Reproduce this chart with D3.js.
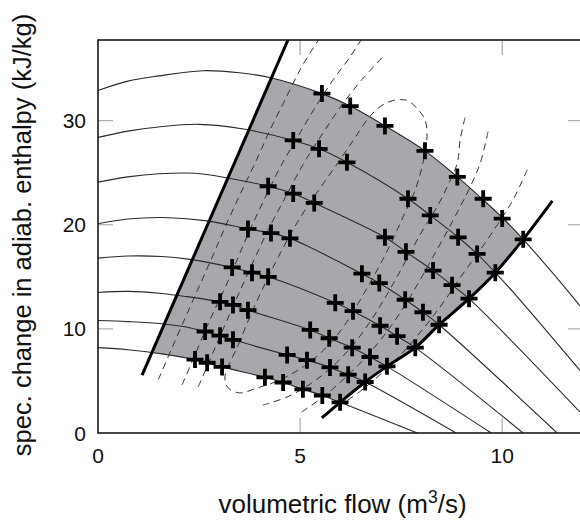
<!DOCTYPE html>
<html><head><meta charset="utf-8">
<script src="https://cdn.jsdelivr.net/npm/d3@7"></script>
<style>html,body{margin:0;padding:0;background:#fff;} svg{display:block;font-family:"Liberation Sans",Arial,Helvetica,sans-serif;}</style>
</head><body><svg id="c" width="580" height="521"></svg>
<script>
// ---------- data ----------
const xTicks = [0, 5, 10];
const yTicks = [0, 10, 20, 30];
const xDomain = [0, 12];
const yDomain = [0, 37.75];

// constant-speed characteristic lines (x = flow, y = enthalpy)
const speedLines = [
  [[0,32.9],[0.74,33.8],[1.5,34.3],[2.6,34.8],[3.5,34.6],[4.3,34.1],[5.54,32.6],[6.24,31.4],[7.1,29.5],[8.09,27.1],[8.89,24.6],[9.53,22.4],[10.0,20.7],[10.52,18.6],[11.76,13.0],[12.1,11.3]],
  [[0,28.4],[0.74,29.0],[1.5,29.4],[2.5,29.65],[3.6,29.2],[4.83,28.1],[5.47,27.3],[6.16,26.0],[7.67,22.5],[8.22,20.9],[8.91,18.8],[9.38,17.2],[9.83,15.4],[10.45,12.75],[12.1,5.2]],
  [[0,24.1],[0.74,24.6],[1.5,24.9],[2.4,24.95],[3.2,24.5],[4.21,23.7],[4.83,23.0],[5.35,22.1],[7.1,18.8],[7.62,17.4],[8.29,15.6],[8.76,14.2],[9.18,12.9],[12.1,1.3]],
  [[0,20.1],[0.74,20.55],[1.6,20.7],[2.65,20.4],[3.71,19.6],[4.28,19.2],[4.75,18.7],[6.53,15.3],[6.96,14.4],[7.6,12.8],[8.04,11.6],[8.44,10.4],[11.36,0]],
  [[0,16.8],[0.74,17.0],[1.58,16.95],[2.23,16.7],[3.32,15.9],[3.81,15.4],[4.21,15.0],[5.87,12.5],[6.31,11.7],[6.98,10.3],[7.40,9.3],[7.85,8.2],[10.52,0]],
  [[0,13.5],[0.74,13.6],[1.58,13.4],[2.2,13.1],[3.02,12.6],[3.34,12.3],[3.71,11.8],[5.25,9.9],[5.72,9.1],[6.29,8.2],[6.73,7.3],[7.15,6.4],[9.73,0]],
  [[0,10.8],[0.74,10.7],[1.58,10.5],[2.15,10.2],[2.65,9.75],[3.02,9.35],[3.34,8.95],[4.68,7.5],[5.17,7.0],[5.74,6.3],[6.19,5.6],[6.61,4.9],[8.86,0]],
  [[0,8.2],[0.74,8.0],[1.58,7.6],[2.40,7.05],[2.70,6.75],[3.07,6.35],[4.13,5.35],[4.58,4.85],[5.07,4.2],[5.55,3.6],[5.99,2.95],[7.9,0]]
];

// measured operating points (crosses)
const measuredPoints = [
  [5.54,32.6],[6.24,31.4],[7.1,29.5],[8.09,27.1],[8.89,24.6],[9.53,22.5],[10.0,20.6],[10.52,18.6],
  [4.83,28.1],[5.47,27.3],[6.16,26.0],[7.67,22.5],[8.22,20.9],[8.91,18.8],[9.38,17.2],[9.83,15.4],
  [4.21,23.7],[4.83,23.0],[5.35,22.1],[7.1,18.8],[7.62,17.4],[8.29,15.6],[8.76,14.2],[9.18,12.9],
  [3.71,19.6],[4.28,19.2],[4.75,18.7],[6.53,15.3],[6.96,14.4],[7.6,12.8],[8.04,11.6],[8.44,10.4],
  [3.32,15.9],[3.81,15.4],[4.21,15.0],[5.87,12.5],[6.31,11.7],[6.98,10.3],[7.40,9.3],[7.85,8.2],
  [3.02,12.6],[3.34,12.3],[3.71,11.8],[5.25,9.9],[5.72,9.1],[6.29,8.2],[6.73,7.3],[7.15,6.4],
  [2.65,9.75],[3.02,9.35],[3.34,8.95],[4.68,7.5],[5.17,7.0],[5.74,6.3],[6.19,5.6],[6.61,4.9],
  [2.40,7.05],[2.70,6.75],[3.07,6.35],[4.13,5.35],[4.58,4.85],[5.07,4.2],[5.55,3.6],[5.99,2.95]
];

// surge limit (left thick line) and choke limit (right thick line)
const surgeLine = [[1.09,5.55],[4.75,38.2]];
const chokeLine = [[5.54,1.45],[5.99,2.95],[6.61,4.9],[7.15,6.4],[7.85,8.2],[8.44,10.4],[9.18,12.9],[9.83,15.4],[10.52,18.6],[11.24,22.3]];

// efficiency contours (dashed)
const effOuterLeft = [[1.49,5.10],[1.83,8.17],[2.18,11.25],[2.52,14.23],[2.85,17.12],[3.17,20.0],[3.51,22.88],[3.89,25.96],[4.26,29.13],[4.63,32.02],[5.00,34.90],[5.30,36.83],[5.55,38.3]];
const effOuterRight = [[10.62,25.29],[10.27,22.40],[9.88,20.0],[9.46,17.60],[9.01,15.19],[8.59,12.79],[8.12,10.38],[7.60,7.98],[7.05,5.87],[6.53,4.13],[6.11,2.98]];
const eff2Left = [[2.08,4.62],[2.43,7.79],[2.77,10.87],[3.12,13.75],[3.44,16.63],[3.76,19.52],[4.11,22.40],[4.50,25.48],[4.93,28.37],[5.37,31.25],[5.82,33.94],[6.24,36.15],[6.6,38.3]];
const eff2Right = [[9.65,28.94],[9.46,25.96],[9.21,23.65],[8.96,21.73],[8.66,19.52],[8.29,16.92],[7.97,14.71],[7.60,12.31],[7.18,9.90],[6.68,7.50],[6.11,5.29],[5.54,3.37],[5.0,1.92]];
const eff3Left = [[2.48,4.42],[2.80,7.31],[3.12,10.19],[3.47,13.27],[3.84,16.44],[4.21,19.52],[4.63,22.60],[5.07,25.77],[5.54,28.65],[6.04,31.54],[6.53,33.94],[7.10,36.35]];
const eff3Right = [[9.08,30.29],[8.96,28.17],[8.89,25.96],[8.64,23.65],[8.39,21.73],[8.04,19.52],[7.72,17.31],[7.40,15.0],[7.10,12.98],[6.73,10.67],[6.29,8.37],[5.79,6.35],[5.25,4.71],[4.68,3.46],[4.08,2.69]];
const effInner = [[3.14,5.38],[3.47,8.46],[3.81,11.63],[4.18,14.71],[4.58,17.79],[5.00,20.67],[5.50,23.56],[5.99,26.25],[6.36,28.37],[6.66,30.10],[6.98,31.35],[7.28,31.92],[7.48,32.02],[7.67,31.92],[7.92,31.06],[8.09,30.10],[8.14,28.46],[8.04,25.96],[7.85,23.37],[7.55,20.77],[7.23,18.08],[6.91,15.67],[6.56,13.27],[6.19,10.87],[5.82,8.94],[5.37,7.21],[4.88,5.87],[4.38,4.90],[3.94,4.33],[3.51,3.85],[3.22,4.33]];

const xTitle = "volumetric flow (m";
const xTitleSup = "3";
const xTitleEnd = "/s)";
const yTitle = "spec. change in adiab. enthalpy (kJ/kg)";

// ---------- drawing ----------
const svg = d3.select("#c");
const M = {left: 98, top: 40, right: 583, bottom: 433};
const x = d3.scaleLinear().domain(xDomain).range([M.left, M.right]);
const y = d3.scaleLinear().domain(yDomain).range([M.bottom, M.top]);

const curve = d3.curveCatmullRom.alpha(0.5);
const line = d3.line().x(d => x(d[0])).y(d => y(d[1])).curve(curve);
const straight = d3.line().x(d => x(d[0])).y(d => y(d[1]));
const P = (a, b) => "L" + x(a) + "," + y(b);

const defs = svg.append("defs");
defs.append("clipPath").attr("id", "plot").append("rect")
  .attr("x", M.left).attr("y", M.top).attr("width", M.right - M.left).attr("height", M.bottom - M.top);

const topLine = speedLines[0], botLine = speedLines[speedLines.length - 1];
const xLo = xDomain[0] - 2, xHi = xDomain[1] + 2, yLo = yDomain[0] - 2, yHi = yDomain[1] + 2;
const tEnd = topLine[topLine.length - 1], bEnd = botLine[botLine.length - 1];
defs.append("clipPath").attr("id", "belowTop").append("path")
  .attr("d", line(topLine) + P(xHi, tEnd[1]) + P(xHi, yLo) + P(xLo, yLo) + P(xLo, topLine[0][1]) + "Z");
defs.append("clipPath").attr("id", "aboveBot").append("path")
  .attr("d", line(botLine) + P(xHi, bEnd[1]) + P(xHi, yHi) + P(xLo, yHi) + P(xLo, botLine[0][1]) + "Z");
const s0 = surgeLine[0], s1 = surgeLine[surgeLine.length - 1];
defs.append("clipPath").attr("id", "rightSurge").append("path")
  .attr("d", straight(surgeLine) + P(xHi, s1[1]) + P(xHi, yLo) + P(s0[0], yLo) + "Z");
const c0 = chokeLine[0], c1 = chokeLine[chokeLine.length - 1];
defs.append("clipPath").attr("id", "leftChoke").append("path")
  .attr("d", line(chokeLine) + P(c1[0], yHi) + P(xLo, yHi) + P(xLo, yLo) + P(c0[0], yLo) + "Z");

const plot = svg.append("g").attr("clip-path", "url(#plot)");

// shaded operating region
plot.append("g").attr("clip-path", "url(#belowTop)")
  .append("g").attr("clip-path", "url(#aboveBot)")
  .append("g").attr("clip-path", "url(#rightSurge)")
  .append("rect").attr("clip-path", "url(#leftChoke)")
  .attr("x", M.left).attr("y", M.top).attr("width", M.right - M.left).attr("height", M.bottom - M.top)
  .attr("fill", "#a7a8ac");

// speed lines
plot.selectAll("path.speed").data(speedLines).join("path").attr("class", "speed")
  .attr("d", line).attr("fill", "none").attr("stroke", "#2a2a2a").attr("stroke-width", 1.1);

// efficiency contours
const openContours = [effOuterLeft, effOuterRight, eff2Left, eff2Right, eff3Left, eff3Right];
plot.selectAll("path.eff").data(openContours).join("path").attr("class", "eff")
  .attr("d", line).attr("fill", "none").attr("stroke", "#333").attr("stroke-width", 1)
  .attr("stroke-dasharray", "7,5");
plot.append("path").attr("d", d3.line().x(d => x(d[0])).y(d => y(d[1])).curve(d3.curveCatmullRomClosed.alpha(0.5))(effInner))
  .attr("fill", "none").attr("stroke", "#333").attr("stroke-width", 1).attr("stroke-dasharray", "7,5");

// surge and choke limits
plot.append("path").attr("d", straight(surgeLine)).attr("fill", "none").attr("stroke", "#000").attr("stroke-width", 3);
plot.append("path").attr("d", line(chokeLine)).attr("fill", "none").attr("stroke", "#000").attr("stroke-width", 3);

// crosses
plot.selectAll("path.pt").data(measuredPoints).join("path").attr("class", "pt")
  .attr("transform", d => `translate(${x(d[0])},${y(d[1])})`)
  .attr("d", "M-8.5,0H8.5M0,-8.5V8.5").attr("stroke", "#000").attr("stroke-width", 3.8).attr("fill", "none");

// ticks (inward, on all sides)
const tk = 15;
const tg = svg.append("g").attr("stroke", "#9a9a9a").attr("stroke-width", 1);
xTicks.filter(v => v > xDomain[0]).forEach(v => {
  tg.append("line").attr("x1", x(v)).attr("x2", x(v)).attr("y1", M.bottom).attr("y2", M.bottom - tk);
  tg.append("line").attr("x1", x(v)).attr("x2", x(v)).attr("y1", M.top).attr("y2", M.top + tk);
});
yTicks.filter(v => v > yDomain[0]).forEach(v => {
  tg.append("line").attr("x1", M.left).attr("x2", M.left + tk).attr("y1", y(v)).attr("y2", y(v));
  tg.append("line").attr("x1", M.right).attr("x2", M.right - tk).attr("y1", y(v)).attr("y2", y(v));
});

// frame
svg.append("rect").attr("x", M.left).attr("y", M.top).attr("width", M.right - M.left).attr("height", M.bottom - M.top)
  .attr("fill", "none").attr("stroke", "#1a1a1a").attr("stroke-width", 1.6);

// tick labels
svg.selectAll("text.xt").data(xTicks).join("text").attr("class", "xt")
  .attr("x", d => x(d)).attr("y", 463).attr("text-anchor", "middle").attr("font-size", 21).attr("fill", "#111").text(d => d);
svg.selectAll("text.yt").data(yTicks).join("text").attr("class", "yt")
  .attr("x", 86).attr("y", d => y(d) + 7.5).attr("text-anchor", "end").attr("font-size", 21).attr("fill", "#111").text(d => d);

// axis titles
const xt = svg.append("text").attr("x", (M.left + M.right) / 2 + 2).attr("y", 513).attr("text-anchor", "middle")
  .attr("font-size", 26).attr("fill", "#111");
xt.append("tspan").text(xTitle);
xt.append("tspan").attr("dy", -10).attr("font-size", 17.5).text(xTitleSup);
xt.append("tspan").attr("dy", 10).text(xTitleEnd);

svg.append("text").attr("transform", "translate(31,235) rotate(-90)").attr("text-anchor", "middle")
  .attr("font-size", 25.5).attr("fill", "#111").text(yTitle);
</script>
</body></html>
